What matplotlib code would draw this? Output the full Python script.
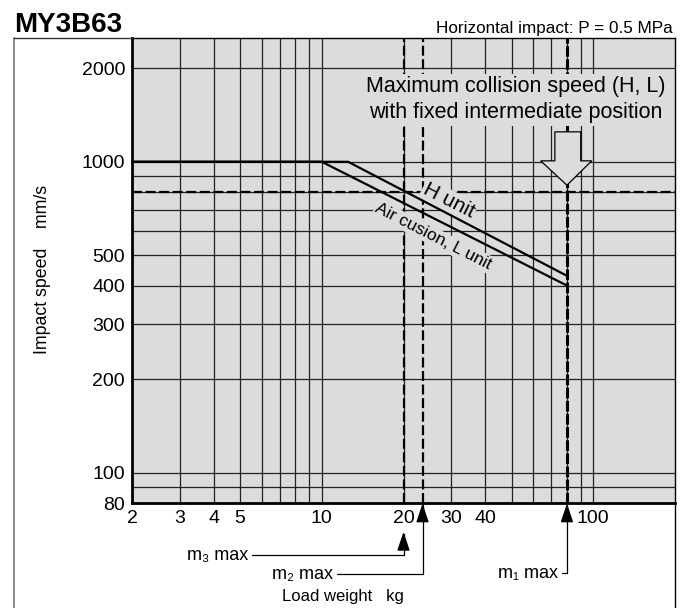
import matplotlib
matplotlib.use("Agg")
import matplotlib.pyplot as plt
from matplotlib.patches import Polygon
from matplotlib.lines import Line2D

plt.rcParams['font.family'] = ['Liberation Sans', 'DejaVu Sans']

# data
load_L = [2, 10, 80]
speed_L = [1000, 1000, 400]
load_H = [2, 12.5, 80]
speed_H = [1000, 1000, 430]
m3_max = 20
m2_max = 23.5
m1_max = 80
speed_fixed = 800

x_grid = [2, 3, 4, 5, 6, 7, 8, 9, 10, 20, 30, 40, 50, 60, 70, 80, 90, 100]
x_labels = ['2', '3', '4', '5', '', '', '', '', '10', '20', '30', '40', '', '', '', '', '', '100']
y_grid = [80, 90, 100, 200, 300, 400, 500, 600, 700, 800, 900, 1000, 2000]
y_labels = ['80', '', '100', '200', '300', '400', '500', '', '', '', '', '1000', '2000']

bg = '#dcdcdc'

fig = plt.figure(figsize=(6.9, 6.08), dpi=100)
ax = fig.add_axes([132/690, 1-503/608, 543/690, 465/608])
ax.set_facecolor(bg)
ax.set_xscale('log')
ax.set_yscale('log')
ax.set_xlim(2, 200)
ax.set_ylim(80, 2500)

ax.set_xticks(x_grid)
ax.set_xticklabels(x_labels)
ax.set_yticks(y_grid)
ax.set_yticklabels(y_labels)
ax.minorticks_off()
ax.tick_params(length=0, labelsize=14, pad=5)
ax.grid(True, color='#222222', lw=0.9, zorder=1)
ax.set_axisbelow(True)

for s in ['left', 'bottom']:
    ax.spines[s].set_linewidth(2)
for s in ['top', 'right']:
    ax.spines[s].set_linewidth(1)

# dashed limit lines
ax.axhline(speed_fixed, color='black', lw=1.6, dashes=(4.5, 1.6), zorder=2)
ax.axvline(m3_max, color='black', lw=1.6, dashes=(4.5, 1.6), zorder=2)
ax.axvline(m2_max, color='black', lw=1.6, dashes=(4.5, 1.6), zorder=2)
ax.axvline(m1_max, color='black', lw=2.2, dashes=(3.5, 0.8), zorder=2)

# curves
ax.plot(load_H, speed_H, color='black', lw=1.6, zorder=6)
ax.plot(load_L, speed_L, color='black', lw=1.6, zorder=6)

ax.text(29.3, 750, 'H unit', fontsize=15, rotation=-27, rotation_mode='anchor',
        ha='center', va='center', zorder=5,
        bbox=dict(facecolor=bg, edgecolor='none', pad=1))
ax.text(25.8, 575, 'Air cusion, L unit', fontsize=12.5, rotation=-27, rotation_mode='anchor',
        ha='center', va='center', zorder=5,
        bbox=dict(facecolor=bg, edgecolor='none', pad=1))

ax.text(0.707, 0.867, 'Maximum collision speed (H, L)\nwith fixed intermediate position',
        transform=ax.transAxes, fontsize=15.5, ha='center', va='center', linespacing=1.3,
        zorder=5, bbox=dict(facecolor=bg, edgecolor='none', pad=2))

# block arrow
arrow = Polygon([(72.2, 1248), (72.2, 1007), (64, 1007), (80, 841),
                 (98.7, 1007), (89.9, 1007), (89.9, 1248)],
                closed=True, facecolor=bg, edgecolor='black', lw=0.9, zorder=5)
ax.add_patch(arrow)

# annotations under the x axis
tr = ax.get_xaxis_transform()
ap = dict(arrowstyle='-|>,head_length=0.9,head_width=0.3', connectionstyle='angle,angleA=0,angleB=90,rad=0',
          relpos=(1, 0.5), shrinkA=1, shrinkB=0, color='black', lw=0.9)
ax.annotate('m\u2083 max', xy=(m3_max, -0.062), xycoords=tr, xytext=(0.2136, -0.112),
            textcoords='axes fraction', ha='right', va='center', fontsize=13,
            arrowprops=ap, annotation_clip=False)
ax.annotate('m\u2082 max', xy=(m2_max, -0.001), xycoords=tr, xytext=(0.370, -0.153),
            textcoords='axes fraction', ha='right', va='center', fontsize=13,
            arrowprops=ap, annotation_clip=False)
ax.annotate('m\u2081 max', xy=(m1_max, -0.001), xycoords=tr, xytext=(0.7845, -0.151),
            textcoords='axes fraction', ha='right', va='center', fontsize=13,
            arrowprops=ap, annotation_clip=False)

fig.text(343/690, 1-597/608, 'Load weight   kg', fontsize=12, ha='center', va='center')
fig.text(43/690, 1-269/608, 'Impact speed    mm/s', fontsize=12.8, ha='center', va='center', rotation=90)

fig.text(14/690, 1-32/608, 'MY3B63', fontsize=20, weight='bold', ha='left', va='baseline')
fig.text(673/690, 1-33/608, 'Horizontal impact: P = 0.5 MPa', fontsize=12.3, ha='right', va='baseline')

# outer frame
fig.add_artist(Line2D([14/690, 14/690], [0, 1-38/608], transform=fig.transFigure, color='#777777', lw=1.2))
fig.add_artist(Line2D([14/690, 132/690], [1-38/608, 1-38/608], transform=fig.transFigure, color='#333333', lw=1))
fig.add_artist(Line2D([675/690, 675/690], [0, 1-503/608], transform=fig.transFigure, color='black', lw=1))

fig.savefig('out.png', dpi=100)
